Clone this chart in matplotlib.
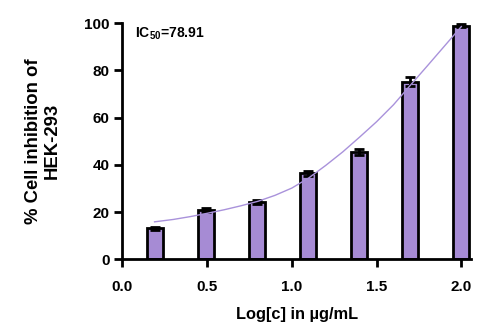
import matplotlib
matplotlib.use('Agg')
import matplotlib.pyplot as plt
import numpy as np

plt.rcParams['font.family'] = ['Liberation Sans', 'DejaVu Sans']
plt.rcParams['font.weight'] = 'bold'
plt.rcParams['mathtext.fontset'] = 'custom'
plt.rcParams['mathtext.rm'] = 'Liberation Sans:bold'
plt.rcParams['mathtext.bf'] = 'Liberation Sans:bold'

# log10 of concentrations (ug/mL)
log_conc = [0.194, 0.495, 0.796, 1.097, 1.398, 1.699, 2.0]
inhibition = [13.1, 20.9, 24.4, 36.4, 45.6, 75.3, 99.0]
errors = [0.8, 1.0, 0.8, 1.0, 1.2, 1.8, 0.7]

# fitted curve
fit_x = [0.19, 0.3, 0.4, 0.5, 0.6, 0.7, 0.8, 0.9, 1.0, 1.1, 1.2, 1.3, 1.4, 1.5, 1.6, 1.7, 1.8, 1.9, 2.0]
fit_y = [15.9, 16.9, 18.1, 19.5, 21.0, 22.7, 24.6, 27.1, 30.2, 34.5, 39.8, 45.5, 51.8, 58.3, 65.5, 73.8, 82.0, 90.3, 98.6]

bar_color = '#a68bd4'
line_color = '#a992db'

fig = plt.figure(figsize=(4.78, 3.23), dpi=100)
ax = fig.add_axes([0.256, 0.197, 0.729, 0.731])

ax.bar(log_conc, inhibition, width=0.095, color=bar_color, edgecolor='black',
       linewidth=2, zorder=2)
ax.errorbar(log_conc, inhibition, yerr=errors, fmt='none', ecolor='black',
            elinewidth=2, capsize=3.8, capthick=2, zorder=3, clip_on=False)
ax.plot(fit_x, fit_y, color=line_color, linewidth=1, zorder=4)

ax.set_xlim(0, 2.056)
ax.set_ylim(0, 100)
ax.set_xticks([0.0, 0.5, 1.0, 1.5, 2.0])
ax.set_xticklabels(['0.0', '0.5', '1.0', '1.5', '2.0'])
ax.set_yticks([0, 20, 40, 60, 80, 100])

for s in ['top', 'right']:
    ax.spines[s].set_visible(False)
for s in ['left', 'bottom']:
    ax.spines[s].set_linewidth(2)
ax.tick_params(width=2, length=6, labelsize=11)
ax.tick_params(axis='x', pad=9)
ax.tick_params(axis='y', pad=3)

ax.set_xlabel('Log[c] in µg/mL', fontsize=11.8, fontweight='bold', labelpad=9)
ax.set_ylabel('% Cell inhibition of\nHEK-293', fontsize=13.3, fontweight='bold',
              multialignment='center', linespacing=1.1)
ax.yaxis.set_label_coords(-0.178, 0.5)

ax.text(0.035, 0.955, r'IC$_{50}$=78.91', transform=ax.transAxes, fontsize=10,
        fontweight='bold', va='center', ha='left')

plt.savefig('out.png', dpi=100)
